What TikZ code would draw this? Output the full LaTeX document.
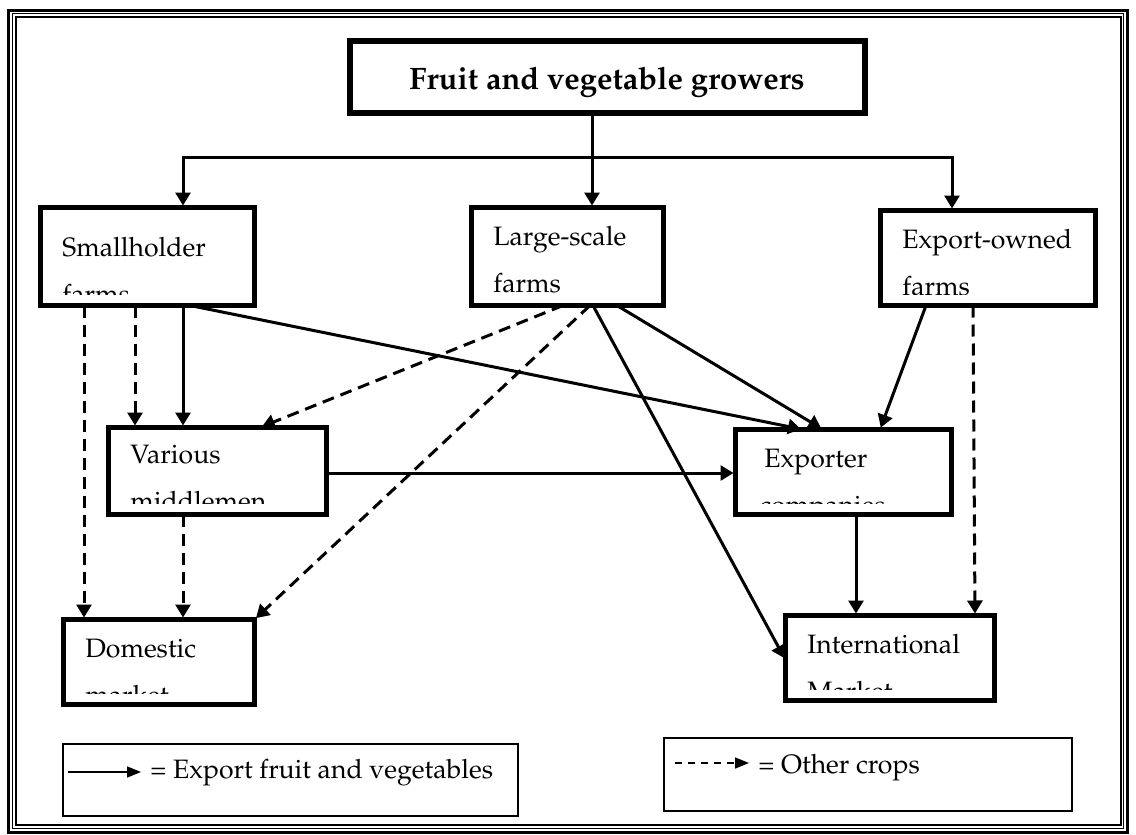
\documentclass[tikz,border=0pt]{standalone}
\usepackage[T1]{fontenc}
\usepackage{mathpazo}
\usetikzlibrary{arrows.meta,fit}

\tikzset{
  stagebox/.style={draw, line width=2.6pt, inner sep=0pt, outer sep=0pt},
  titlebox/.style={draw, line width=3pt, inner sep=0pt},
  titletext/.style={anchor=base, inner sep=0pt, font=\fontsize{15.5}{18}\selectfont\bfseries},
  stagetext/.style={anchor=base west, inner sep=0pt, font=\fontsize{13.3}{16}\selectfont},
  legbox/.style={draw, line width=1pt, inner sep=0pt},
  flow/.style={line width=1.5pt, -{Triangle[length=6.5pt,width=7.5pt]}, shorten >=1pt},
  other/.style={flow, dash pattern=on 6pt off 3.5pt},
  legflow/.style={line width=0.8pt, -{Triangle[length=7pt,width=5.5pt]}},
  legother/.style={legflow, dash pattern=on 3.5pt off 3pt},
}

\newcommand{\chainbox}[8][40]{
  \node[stagebox, fit={(#3,#4) (#5,#6)}] (#2) {};
  \begin{scope}
    \clip (#3,#4) rectangle (#5,#6-11);
    \node[stagetext] (#2-one) at (#3+21.5,#4+#1-2.5) {#7};
    \node[stagetext] (#2-two) at (#3+21.5,#4+#1+44.5) {#8};
  \end{scope}
}
\newcommand{\flowline}[3][flow]{
  \draw[#1] (#2) -- (#3);
}

\begin{document}
\begin{tikzpicture}[x=0.5pt, y=-0.5pt]
  \useasboundingbox (0,0) rectangle (1136,835);
  \draw[line width=1.5pt] (8.5,10) rectangle (1127.5,832);
  \draw[line width=0.5pt] (12.5,13.5) rectangle (1123.5,828.5);
  \draw[line width=1pt] (15.5,16.5) rectangle (1120.5,825);

  \node[titlebox, fit={(350,41) (865,113)}] (top) {};
  \node[titletext] (top-text) at (607,89) {Fruit and vegetable growers};

  \chainbox[51]{sh}{40.5}{207.5}{254.5}{305.5}{Smallholder}{farms}
  \chainbox{ls}{471.5}{207.5}{663.5}{305.5}{Large-scale}{farms}
  \chainbox{eo}{880.5}{210.5}{1095.5}{305.5}{Export-owned}{farms}
  \chainbox[38]{mid}{108.5}{427.5}{326.5}{514.5}{Various}{middlemen}
  \chainbox{ex}{735.5}{429.5}{951.5}{514.5}{\hspace*{3.5pt}Exporter}{\hspace*{1pt}companies}
  \chainbox{dom}{63.5}{619.5}{254.5}{704.5}{Domestic}{market}
  \chainbox{intl}{785.5}{615.5}{994.5}{700.5}{International}{Market}

  \coordinate (bus-l) at (183,157);
  \coordinate (bus-m) at (592,157);
  \coordinate (bus-r) at (952,157);
  \flowline{top.south -| bus-m}{ls.north -| bus-m}
  \draw[flow] (bus-m) -- (bus-l) -- (bus-l |- sh.north);
  \draw[flow] (bus-m) -- (bus-r) -- (bus-r |- eo.north);

  \flowline{sh.south -| 183,0}{mid.north -| 183,0}
  \flowline{sh.south -| 190,0}{ex.north -| 803,0}
  \flowline{ls.south -| 617,0}{ex.north -| 823,0}
  \flowline{ls.south -| 593,0}{intl.west |- 0,660}
  \flowline{eo.south -| 926,0}{ex.north -| 880,0}
  \flowline{mid.east |- 0,473}{ex.west |- 0,473}
  \flowline{ex.south -| 856,0}{intl.north -| 856,0}

  \flowline[other]{sh.south -| 84,0}{dom.north -| 84,0}
  \flowline[other]{sh.south -| 135,0}{mid.north -| 135,0}
  \flowline[other]{ls.south -| 563,0}{mid.north -| 260,0}
  \flowline[other]{ls.south -| 590,0}{dom.north east}
  \flowline[other]{mid.south -| 183,0}{dom.north -| 183,0}
  \flowline[other]{eo.south -| 973,0}{intl.north -| 975,0}

  \node[legbox, fit={(63,744) (518,816)}] (leg-solid) {};
  \coordinate (leg-solid-a) at (68,772);
  \coordinate (leg-solid-b) at (141,772);
  \flowline[legflow]{leg-solid-a}{leg-solid-b}
  \node[stagetext] (leg-solid-text) at (150,778) {= Export fruit and vegetables};

  \node[legbox, fit={(664,738) (1072,811)}] (leg-dash) {};
  \coordinate (leg-dash-a) at (675,763);
  \coordinate (leg-dash-b) at (749,763);
  \flowline[legother]{leg-dash-a}{leg-dash-b}
  \node[stagetext] (leg-dash-text) at (758,773) {= Other crops};
\end{tikzpicture}
\end{document}
